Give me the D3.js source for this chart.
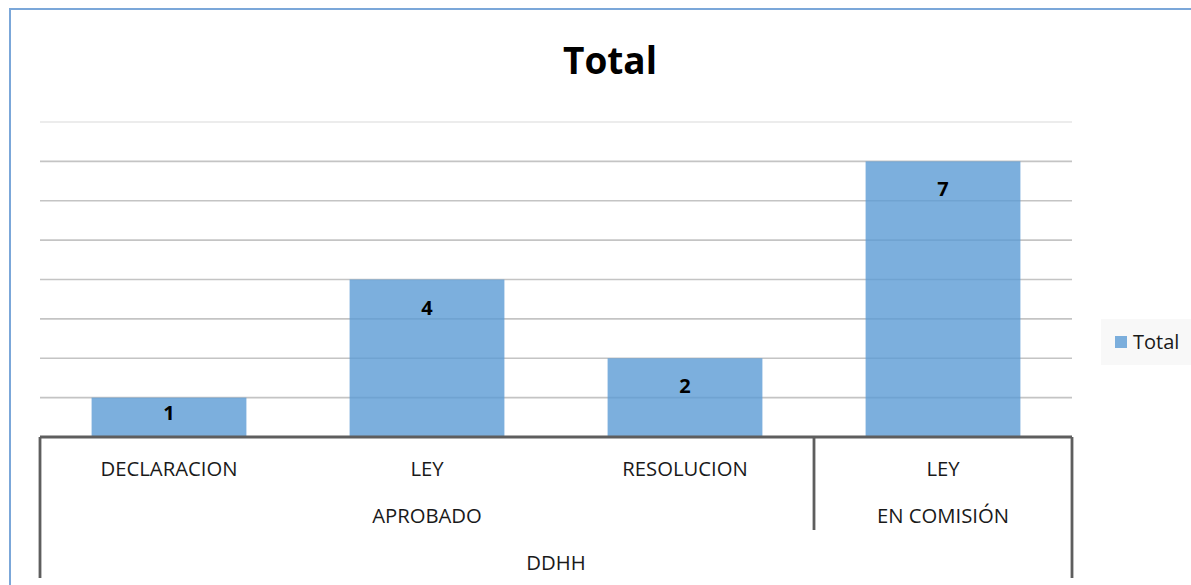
<!DOCTYPE html>
<html>
<head>
<meta charset="utf-8">
<script src="https://cdn.jsdelivr.net/npm/d3@7"></script>
<style>
  body { margin: 0; background: #fff; }
  text { font-family: "Open Sans", "Liberation Sans", sans-serif; }
</style>
</head>
<body>
<div id="chart"></div>
<script>
// data
var categories = ["DECLARACION", "LEY", "RESOLUCION", "LEY"];
var estados = ["APROBADO", "APROBADO", "APROBADO", "EN COMISIÓN"];
var temas = ["DDHH", "DDHH", "DDHH", "DDHH"];
var totals = [1, 4, 2, 7];
var yTicks = [0, 1, 2, 3, 4, 5, 6, 7, 8];

var W = 1191, H = 585;
var margin = { top: 122, right: 119, bottom: 148, left: 40 },
    width = W - margin.left - margin.right,
    height = H - margin.top - margin.bottom;

var svg = d3.select("#chart")
    .append("svg")
    .attr("width", W)
    .attr("height", H);

// chart area border
svg.append("rect")
    .attr("x", 10).attr("y", 9)
    .attr("width", W + 20).attr("height", H + 20)
    .attr("fill", "none")
    .attr("stroke", "#7ba7d9")
    .attr("stroke-width", 2);

svg.append("text")
    .attr("x", 610).attr("y", 74)
    .attr("text-anchor", "middle")
    .style("font-size", "37px")
    .style("font-weight", "bold")
    .style("fill", "#000")
    .text("Total");

var g = svg.append("g")
    .attr("transform", "translate(" + margin.left + "," + margin.top + ")");

var x = d3.scaleBand()
    .domain(d3.range(categories.length))
    .range([0, width])
    .paddingInner(0.4)
    .paddingOuter(0.2);

var y = d3.scaleLinear()
    .domain([0, 8])
    .range([height, 0]);

// gridlines
g.append("g")
    .selectAll("line.grid")
    .data(yTicks.slice(1))
    .enter()
    .append("line")
    .attr("class", "grid")
    .attr("x1", 0).attr("x2", width)
    .attr("y1", function (d) { return y(d) })
    .attr("y2", function (d) { return y(d) })
    .attr("stroke", function (d) { return d == 8 ? "#e6e6e6" : "#c4c4c4" })
    .attr("stroke-width", 1.6);

// bars
g.append("g")
    .selectAll("rect.bar")
    .data(totals)
    .enter()
    .append("rect")
    .attr("class", "bar")
    .attr("x", function (d, i) { return x(i) })
    .attr("y", function (d) { return y(d) })
    .attr("width", x.bandwidth())
    .attr("height", function (d) { return height - y(d) })
    .attr("fill", "#5b9bd5")
    .attr("fill-opacity", 0.8);

// value labels (inside end, kept inside short bars)
g.append("g")
    .selectAll("text.val")
    .data(totals)
    .enter()
    .append("text")
    .attr("class", "val")
    .attr("x", function (d, i) { return x(i) + x.bandwidth() / 2 })
    .attr("y", function (d) { return Math.min(y(d) + 35, height - 17) })
    .attr("text-anchor", "middle")
    .style("font-size", "20px")
    .style("font-weight", "bold")
    .style("fill", "#000")
    .text(function (d) { return d });

// multi-level category axis
var step = x.step();
var axisColor = "#5e5e5e";
var labelSize = "20.3px";
g.append("line")
    .attr("x1", 0).attr("x2", width)
    .attr("y1", height).attr("y2", height)
    .attr("stroke", axisColor).attr("stroke-width", 2.8);

// level 1 labels
g.append("g")
    .selectAll("text.l1")
    .data(categories)
    .enter()
    .append("text")
    .attr("class", "l1")
    .attr("x", function (d, i) { return x(i) + x.bandwidth() / 2 })
    .attr("y", height + 39)
    .attr("text-anchor", "middle")
    .style("font-size", labelSize)
    .style("fill", "#1a1a1a")
    .text(function (d) { return d });

// groups for level 2 and 3
function groups(arr) {
    var out = [];
    arr.forEach(function (v, i) {
        if (out.length && out[out.length - 1].name == v) out[out.length - 1].end = i + 1;
        else out.push({ name: v, start: i, end: i + 1 });
    });
    return out;
}
var lvl2 = groups(estados), lvl3 = groups(temas);

g.append("g")
    .selectAll("text.l2")
    .data(lvl2)
    .enter()
    .append("text")
    .attr("x", function (d) { return (d.start + d.end) / 2 * step })
    .attr("y", height + 86)
    .attr("text-anchor", "middle")
    .style("font-size", labelSize)
    .style("fill", "#1a1a1a")
    .text(function (d) { return d.name });

g.append("g")
    .selectAll("text.l3")
    .data(lvl3)
    .enter()
    .append("text")
    .attr("x", function (d) { return (d.start + d.end) / 2 * step })
    .attr("y", height + 133)
    .attr("text-anchor", "middle")
    .style("font-size", labelSize)
    .style("fill", "#1a1a1a")
    .text(function (d) { return d.name });

// separators between level 2 groups
g.append("g")
    .selectAll("line.sep2")
    .data(lvl2.slice(1))
    .enter()
    .append("line")
    .attr("x1", function (d) { return d.start * step })
    .attr("x2", function (d) { return d.start * step })
    .attr("y1", height).attr("y2", height + 93)
    .attr("stroke", axisColor).attr("stroke-width", 2.8);

// outer edges
g.append("g")
    .selectAll("line.edge")
    .data([0, categories.length])
    .enter()
    .append("line")
    .attr("x1", function (d) { return d * step })
    .attr("x2", function (d) { return d * step })
    .attr("y1", height).attr("y2", height + 141)
    .attr("stroke", axisColor).attr("stroke-width", 2.8);

// legend
var lg = svg.append("g").attr("transform", "translate(1101,319)");
lg.append("rect")
    .attr("width", 95).attr("height", 46)
    .attr("fill", "#f8f8f8");
lg.append("rect")
    .attr("x", 14).attr("y", 17)
    .attr("width", 12).attr("height", 12)
    .attr("fill", "#5b9bd5").attr("fill-opacity", 0.8);
lg.append("text")
    .attr("x", 32).attr("y", 30)
    .style("font-size", "20px")
    .style("fill", "#1a1a1a")
    .text("Total");
</script>
</body>
</html>
